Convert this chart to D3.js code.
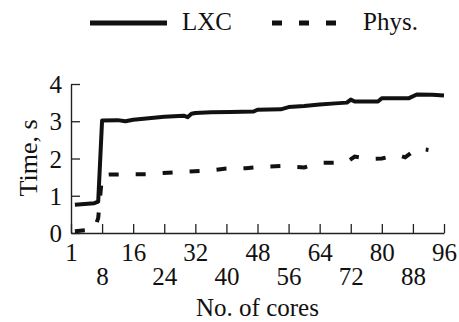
<!DOCTYPE html>
<html>
<head>
<meta charset="utf-8">
<script src="https://cdn.jsdelivr.net/npm/d3@7"></script>
<style>
  body { margin: 0; background: #fff; }
  text { font-family: "Liberation Serif", "Times New Roman", serif; fill: #111; }
</style>
</head>
<body>
<script>
// values
var lxcCores = [1, 6, 7, 8, 12, 14, 16, 20, 24, 29, 30, 31, 32, 36, 41, 47, 48, 54, 56, 60, 64, 68, 71, 72, 73, 79, 80, 87, 89, 93, 96];
var lxcTime  = [0.76, 0.80, 0.84, 3.02, 3.03, 3.00, 3.04, 3.08, 3.12, 3.15, 3.11, 3.20, 3.22, 3.24, 3.25, 3.26, 3.31, 3.32, 3.38, 3.41, 3.45, 3.48, 3.50, 3.58, 3.53, 3.53, 3.62, 3.62, 3.72, 3.71, 3.69];

var physCores = [1, 6, 7, 8, 10, 16, 20, 25, 30, 36, 40, 45, 50, 55, 58, 60, 64, 68, 71, 73, 77, 80, 84, 86, 89, 92];
var physTime  = [0.05, 0.10, 0.40, 1.55, 1.57, 1.58, 1.58, 1.62, 1.65, 1.68, 1.73, 1.74, 1.78, 1.80, 1.77, 1.76, 1.88, 1.89, 1.90, 2.05, 1.99, 2.00, 2.10, 2.03, 2.27, 2.23];

var xTicks = [0, 8, 16, 24, 32, 40, 48, 56, 64, 72, 80, 88, 96];
var xTickLabels = ["1", "8", "16", "24", "32", "40", "48", "56", "64", "72", "80", "88", "96"];
var yTicks = [0, 1, 2, 3, 4];
var seriesNames = ["LXC", "Phys."];

var W = 459, H = 322;
var margin = {top: 84, right: 15, bottom: 89, left: 71};
var width = W - margin.left - margin.right,
    height = H - margin.top - margin.bottom;

var svg = d3.select("body").append("svg")
    .attr("width", W)
    .attr("height", H);

var g = svg.append("g")
    .attr("transform", "translate(" + margin.left + "," + margin.top + ")");

var x = d3.scaleLinear().domain([0, 96]).range([0, width]);
var y = d3.scaleLinear().domain([0, 4]).range([height, 0]);

// x axis, ticks pointing inwards, labels on two rows
var xAxis = g.append("g")
    .attr("transform", "translate(0," + height + ")")
    .call(d3.axisBottom(x).tickValues(xTicks).tickSizeInner(-9).tickSizeOuter(0)
        .tickFormat(function(d, i) { return xTickLabels[i]; }));
xAxis.select(".domain").attr("stroke", "#222").attr("stroke-width", 1.4);
xAxis.selectAll(".tick line").attr("stroke", "#222").attr("stroke-width", 1.3);
xAxis.selectAll(".tick text")
    .attr("y", function(d, i) { return i % 2 ? 52 : 28; })
    .attr("dy", 0)
    .attr("font-size", "25px");

var yAxis = g.append("g")
    .call(d3.axisLeft(y).tickValues(yTicks).tickFormat(d3.format("d"))
        .tickSizeInner(-9).tickSizeOuter(0));
yAxis.select(".domain").attr("stroke", "#222").attr("stroke-width", 1.4);
yAxis.selectAll(".tick line").attr("stroke", "#222").attr("stroke-width", 1.3);
yAxis.selectAll(".tick text")
    .attr("x", -9)
    .attr("dy", "0.34em")
    .attr("font-size", "25px");

var line = d3.line()
    .x(function(d) { return x(d[0]); })
    .y(function(d) { return y(d[1]); });

g.append("path")
    .datum(d3.zip(lxcCores, lxcTime))
    .attr("fill", "none")
    .attr("stroke", "#111")
    .attr("stroke-width", 4)
    .attr("stroke-linejoin", "round")
    .attr("d", line);

g.append("path")
    .datum(d3.zip(physCores, physTime))
    .attr("fill", "none")
    .attr("stroke", "#111")
    .attr("stroke-width", 4)
    .attr("stroke-dasharray", "10,17")
    .attr("d", line);

// axis titles
svg.append("text")
    .attr("x", margin.left + width / 2)
    .attr("y", 316)
    .attr("text-anchor", "middle")
    .attr("font-size", "25px")
    .text("No. of cores");

svg.append("text")
    .attr("transform", "translate(37,158) rotate(-90)")
    .attr("text-anchor", "middle")
    .attr("font-size", "26px")
    .text("Time, s");

// legend
var legend = svg.append("g");
legend.append("line")
    .attr("x1", 90).attr("x2", 167).attr("y1", 23).attr("y2", 23)
    .attr("stroke", "#111").attr("stroke-width", 5);
legend.append("text")
    .attr("x", 182).attr("y", 30)
    .attr("font-size", "25px")
    .text(seriesNames[0]);
legend.append("line")
    .attr("x1", 272).attr("x2", 337).attr("y1", 23).attr("y2", 23)
    .attr("stroke", "#111").attr("stroke-width", 5)
    .attr("stroke-dasharray", "10,17");
legend.append("text")
    .attr("x", 363).attr("y", 30)
    .attr("font-size", "25px")
    .text(seriesNames[1]);
</script>
</body>
</html>
